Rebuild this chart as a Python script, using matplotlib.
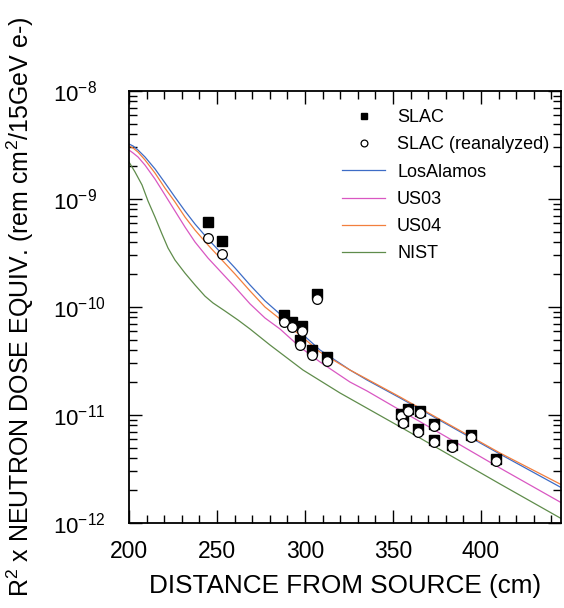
"""R^2 x dosis equivalente de neutrones vs distancia a la fuente (SLAC vs modelos)."""
import matplotlib
matplotlib.use("Agg")
import matplotlib.pyplot as plt
from matplotlib.ticker import FixedLocator, MultipleLocator, LogLocator, NullFormatter

plt.rcParams["font.family"] = ["Liberation Sans", "DejaVu Sans"]
plt.rcParams["mathtext.fontset"] = "custom"
plt.rcParams["mathtext.rm"] = "Liberation Sans"
plt.rcParams["mathtext.it"] = "Liberation Sans:italic"
plt.rcParams["mathtext.bf"] = "Liberation Sans:bold"

# --- datos ---
slac_x = [244.9, 252.8, 288.1, 292.6, 298.3, 297.2, 304.0, 312.5, 306.8,
          354.5, 358.5, 355.7, 365.3, 364.2, 373.3, 373.3, 383.5, 394.3, 408.5]
slac_y = [6.1e-10, 4.1e-10, 8.4e-11, 7.3e-11, 6.7e-11, 4.95e-11, 4.0e-11, 3.45e-11, 1.32e-10,
          1.03e-11, 1.14e-11, 8.8e-12, 1.09e-11, 7.35e-12, 8.3e-12, 5.9e-12, 5.3e-12, 6.55e-12, 3.95e-12]

rean_x = [244.9, 252.8, 288.1, 292.6, 298.3, 297.2, 304.0, 312.5, 306.8,
          354.5, 358.5, 355.7, 365.3, 364.2, 373.3, 373.3, 383.5, 394.3, 408.5]
rean_y = [4.35e-10, 3.1e-10, 7.3e-11, 6.5e-11, 6.0e-11, 4.45e-11, 3.6e-11, 3.15e-11, 1.19e-10,
          9.8e-12, 1.09e-11, 8.4e-12, 1.04e-11, 7.0e-12, 7.9e-12, 5.6e-12, 5.05e-12, 6.25e-12, 3.75e-12]

curve_x = [200.0, 202.27, 205.11, 209.09, 214.77, 220.45, 226.14, 231.82, 237.50, 244.89,
           252.84, 260.23, 268.75, 277.27, 285.80, 297.16, 308.52, 325.57, 335.23, 353.98,
           382.39, 410.80, 446.02]
losalamos = [3.23e-9, 3.10e-9, 2.84e-9, 2.45e-9, 1.90e-9, 1.41e-9, 1.04e-9, 7.74e-10, 5.87e-10, 4.26e-10,
             3.10e-10, 2.30e-10, 1.60e-10, 1.14e-10, 8.6e-11, 5.87e-11, 4.00e-11, 2.61e-11, 2.11e-11, 1.44e-11,
             7.91e-12, 4.35e-12, 2.11e-12]
us04 = [3.10e-9, 2.97e-9, 2.72e-9, 2.30e-9, 1.74e-9, 1.26e-9, 9.38e-10, 6.81e-10, 5.16e-10, 3.75e-10,
        2.72e-10, 2.02e-10, 1.41e-10, 1.00e-10, 7.75e-11, 5.50e-11, 3.83e-11, 2.61e-11, 2.15e-11, 1.47e-11,
        8.08e-12, 4.45e-12, 2.25e-12]
us03 = [2.84e-9, 2.67e-9, 2.45e-9, 2.06e-9, 1.53e-9, 1.09e-9, 7.74e-10, 5.50e-10, 4.00e-10, 2.84e-10,
        2.06e-10, 1.53e-10, 1.07e-10, 7.91e-11, 6.26e-11, 4.26e-11, 3.10e-11, 2.02e-11, 1.67e-11, 1.11e-11,
        6.00e-12, 3.23e-12, 1.53e-12]

nist_x = [200.0, 203.41, 207.39, 210.80, 214.77, 218.75, 222.16, 226.14, 231.82, 237.50, 243.18,
          247.73, 254.55, 261.93, 268.75, 280.11, 298.86, 319.89, 365.34, 410.80, 446.02]
nist = [2.20e-9, 1.78e-9, 1.35e-9, 9.58e-10, 6.81e-10, 4.74e-10, 3.52e-10, 2.72e-10, 2.06e-10, 1.60e-10, 1.26e-10,
        1.09e-10, 9.18e-11, 7.58e-11, 6.26e-11, 4.45e-11, 2.61e-11, 1.60e-11, 6.12e-12, 2.30e-12, 1.09e-12]

CURVES = [
    ("LosAlamos", curve_x, losalamos, "#3d6cc6"),
    ("US03",      curve_x, us03,      "#d957c2"),
    ("US04",      curve_x, us04,      "#f27f3d"),
    ("NIST",      nist_x,  nist,      "#5f8c4b"),
]


def main():
    fig = plt.figure(figsize=(5.64, 6.08), dpi=100)
    ax = fig.add_axes([129 / 564, 85 / 608, 432 / 564, 432 / 608])

    ax.plot(slac_x, slac_y, linestyle="none", marker="s", markersize=6.5,
            color="black", label="SLAC", zorder=3)
    ax.plot(rean_x, rean_y, linestyle="none", marker="o", markersize=7,
            markerfacecolor="white", markeredgecolor="black", markeredgewidth=0.9,
            label="SLAC (reanalyzed)", zorder=4)
    for label, xs, ys, color in CURVES:
        ax.plot(xs, ys, color=color, linewidth=0.9, label=label, zorder=2)

    ax.set_yscale("log")
    ax.set_xlim(200, 445.5)
    ax.set_ylim(1e-12, 1e-8)

    ax.xaxis.set_major_locator(MultipleLocator(50))
    ax.xaxis.set_minor_locator(MultipleLocator(10))
    ax.yaxis.set_major_locator(FixedLocator([1e-12, 1e-11, 1e-10, 1e-9, 1e-8]))
    ax.yaxis.set_minor_locator(LogLocator(base=10, subs=range(2, 10)))
    ax.yaxis.set_minor_formatter(NullFormatter())

    ax.tick_params(which="both", direction="in", top=True, right=True, width=1.0)
    ax.tick_params(which="major", length=9.5)
    ax.tick_params(which="minor", length=5.5)
    ax.tick_params(axis="x", labelsize=16.5, pad=12)
    ax.tick_params(axis="y", labelsize=16, pad=55)
    for t in ax.get_yticklabels():
        t.set_horizontalalignment("left")
    for s in ax.spines.values():
        s.set_linewidth(1.3)

    ax.set_xlabel("DISTANCE FROM SOURCE (cm)", fontsize=18.8, labelpad=8)
    ax.set_ylabel(r"R$^2$ x NEUTRON DOSE EQUIV. (rem cm$^2$/15GeV e-)", fontsize=18)
    ax.yaxis.set_label_coords(-0.215, 0.5)

    ax.legend(loc="upper left", bbox_to_anchor=((342 - 129) / 432, (523 - 109) / 432),
              bbox_transform=ax.transAxes, frameon=False, fontsize=13,
              borderpad=0, borderaxespad=0, handlelength=2.4, handletextpad=0.65,
              labelspacing=0.57, markerscale=0.7, numpoints=1)

    fig.savefig("out.png", dpi=100)
    plt.close(fig)


if __name__ == "__main__":
    main()
